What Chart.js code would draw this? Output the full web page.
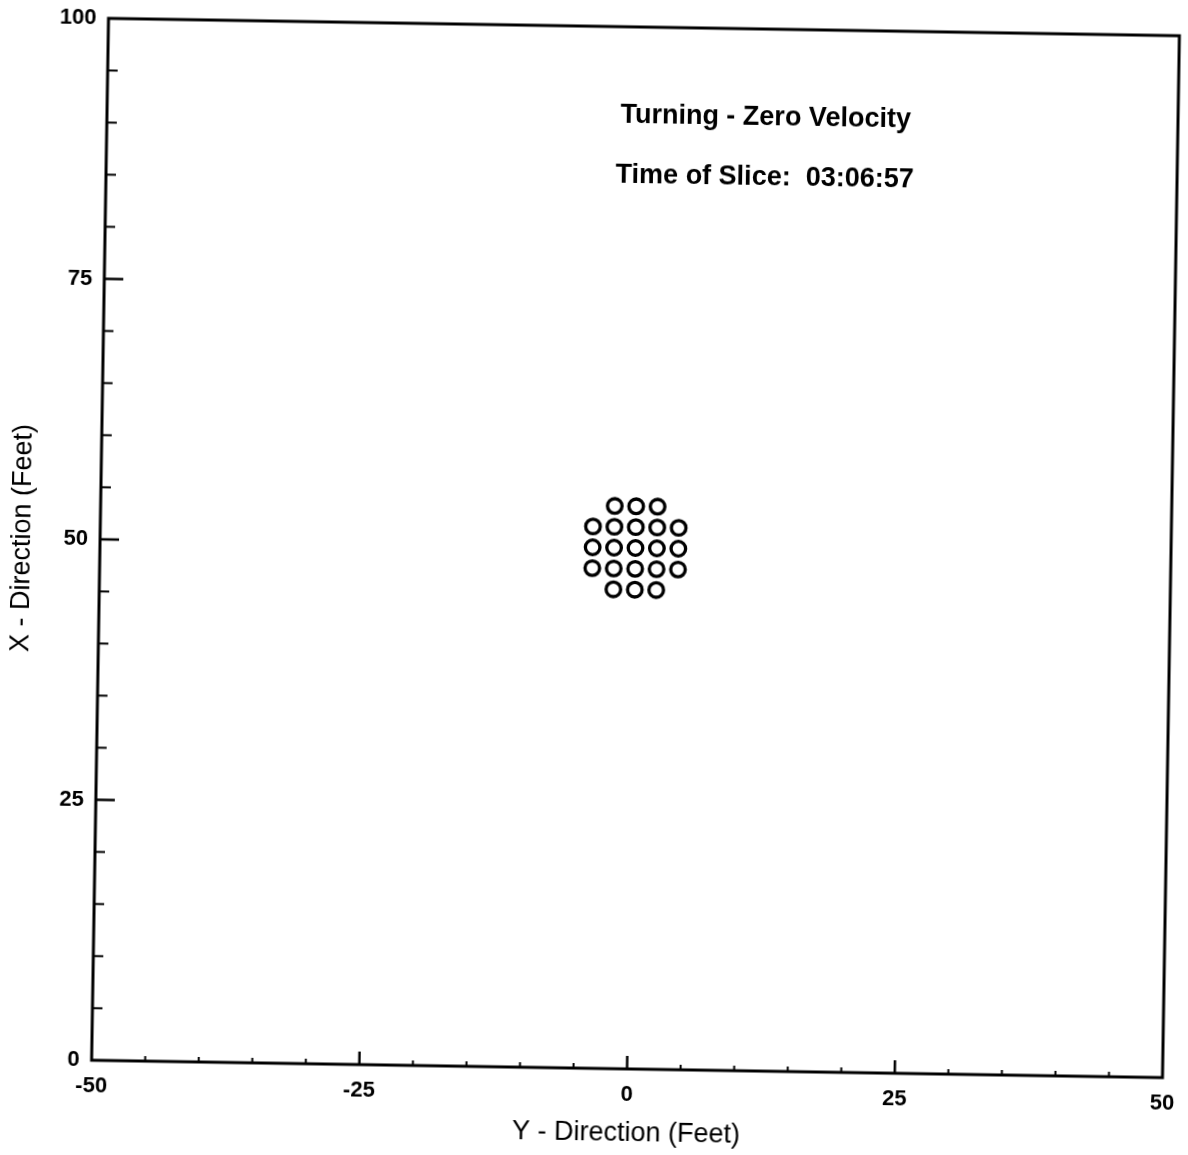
<!DOCTYPE html>
<html>
<head>
<meta charset="utf-8">
<title>Turning - Zero Velocity</title>
<script src="https://cdn.jsdelivr.net/npm/chart.js@4/dist/chart.umd.min.js"></script>
<style>
  html, body { margin: 0; padding: 0; background: #ffffff; overflow: hidden; }
  #wrap { width: 1188px; height: 1155px; position: relative; }
  #slice {
    position: absolute; left: 0; top: 0;
    transform-origin: 635.5px 548px;
    transform: rotate(0.93deg);
  }
</style>
</head>
<body>
<div id="wrap"><canvas id="slice" width="1188" height="1155"></canvas></div>
<script>
// Particle positions at the time slice (feet)
const particleY = [-2, 0, 2, -4, -2, 0, 2, 4, -4, -2, 0, 2, 4, -4, -2, 0, 2, 4, -2, 0, 2];
const particleX = [54, 54, 54, 52, 52, 52, 52, 52, 50, 50, 50, 50, 50, 48, 48, 48, 48, 48, 46, 46, 46];

// Axis ranges and tick spacing
const yDirRange = [-50, 50];
const xDirRange = [0, 100];
const labelStep = 25;
const minorStep = 5;

// Annotation lines
const headingLines = ['Turning - Zero Velocity', 'Time of Slice:  03:06:57'];

const FONT = '"Liberation Sans", Arial, Helvetica, sans-serif';

const points = particleY.map((y, i) => ({ x: y, y: particleX[i] }));

// Frame, inward tick marks and heading text
const framePlugin = {
  id: 'frame',
  afterDraw(chart) {
    const { ctx, chartArea: a, scales } = chart;
    const sx = scales.x, sy = scales.y;
    ctx.save();
    ctx.strokeStyle = '#000';
    ctx.lineCap = 'butt';

    // horizontal axis ticks (pointing up into the plot)
    for (let v = yDirRange[0] + minorStep; v < yDirRange[1]; v += minorStep) {
      const major = v % labelStep === 0;
      const px = sx.getPixelForValue(v);
      ctx.lineWidth = major ? 2.5 : 2;
      ctx.beginPath();
      ctx.moveTo(px, a.bottom);
      ctx.lineTo(px, a.bottom - (major ? 13 : 5));
      ctx.stroke();
    }
    // vertical axis ticks (pointing right into the plot)
    for (let v = xDirRange[0] + minorStep; v < xDirRange[1]; v += minorStep) {
      const major = v % labelStep === 0;
      const py = sy.getPixelForValue(v);
      ctx.lineWidth = major ? 2.5 : 2;
      ctx.beginPath();
      ctx.moveTo(a.left, py);
      ctx.lineTo(a.left + (major ? 19 : 10), py);
      ctx.stroke();
    }

    // plot frame
    ctx.lineWidth = 3;
    ctx.strokeRect(a.left, a.top, a.right - a.left, a.bottom - a.top);

    // heading inside the plot
    ctx.fillStyle = '#000';
    ctx.font = 'bold 27px ' + FONT;
    ctx.textAlign = 'center';
    ctx.textBaseline = 'middle';
    const cx = sx.getPixelForValue(11.5);
    ctx.fillText(headingLines[0], cx, sy.getPixelForValue(91.5));
    ctx.fillText(headingLines[1], cx, sy.getPixelForValue(85.7));
    ctx.restore();
  }
};

new Chart(document.getElementById('slice'), {
  type: 'scatter',
  data: {
    datasets: [{
      data: points,
      pointStyle: 'circle',
      pointRadius: 7.3,
      pointHoverRadius: 7.3,
      borderWidth: 3.3,
      borderColor: '#000',
      backgroundColor: 'rgba(255,255,255,0)'
    }]
  },
  options: {
    responsive: false,
    animation: false,
    events: [],
    layout: { padding: { left: 0, top: 27, right: 17, bottom: 0 } },
    plugins: { legend: { display: false }, tooltip: { enabled: false } },
    scales: {
      x: {
        type: 'linear',
        min: yDirRange[0],
        max: yDirRange[1],
        afterFit(scale) {
          scale.height = 86;
          scale.paddingLeft = 0;
          scale.paddingRight = 0;
        },
        grid: { display: false, drawTicks: false },
        border: { display: false },
        ticks: {
          stepSize: labelStep,
          padding: 13,
          color: '#000',
          font: { family: FONT, size: 22, weight: 'bold' }
        },
        title: {
          display: true,
          text: 'Y - Direction (Feet)',
          color: '#000',
          padding: { top: 0, bottom: 5 },
          font: { family: FONT, size: 27 }
        }
      },
      y: {
        type: 'linear',
        min: xDirRange[0],
        max: xDirRange[1],
        afterFit(scale) {
          scale.width = 100;
          scale.paddingTop = 0;
          scale.paddingBottom = 0;
        },
        grid: { display: false, drawTicks: false },
        border: { display: false },
        ticks: {
          stepSize: labelStep,
          padding: 12,
          color: '#000',
          font: { family: FONT, size: 22, weight: 'bold' }
        },
        title: {
          display: true,
          text: 'X - Direction (Feet)',
          color: '#000',
          padding: { top: 6, bottom: 0 },
          font: { family: FONT, size: 27 }
        }
      }
    }
  },
  plugins: [framePlugin]
});
</script>
</body>
</html>
